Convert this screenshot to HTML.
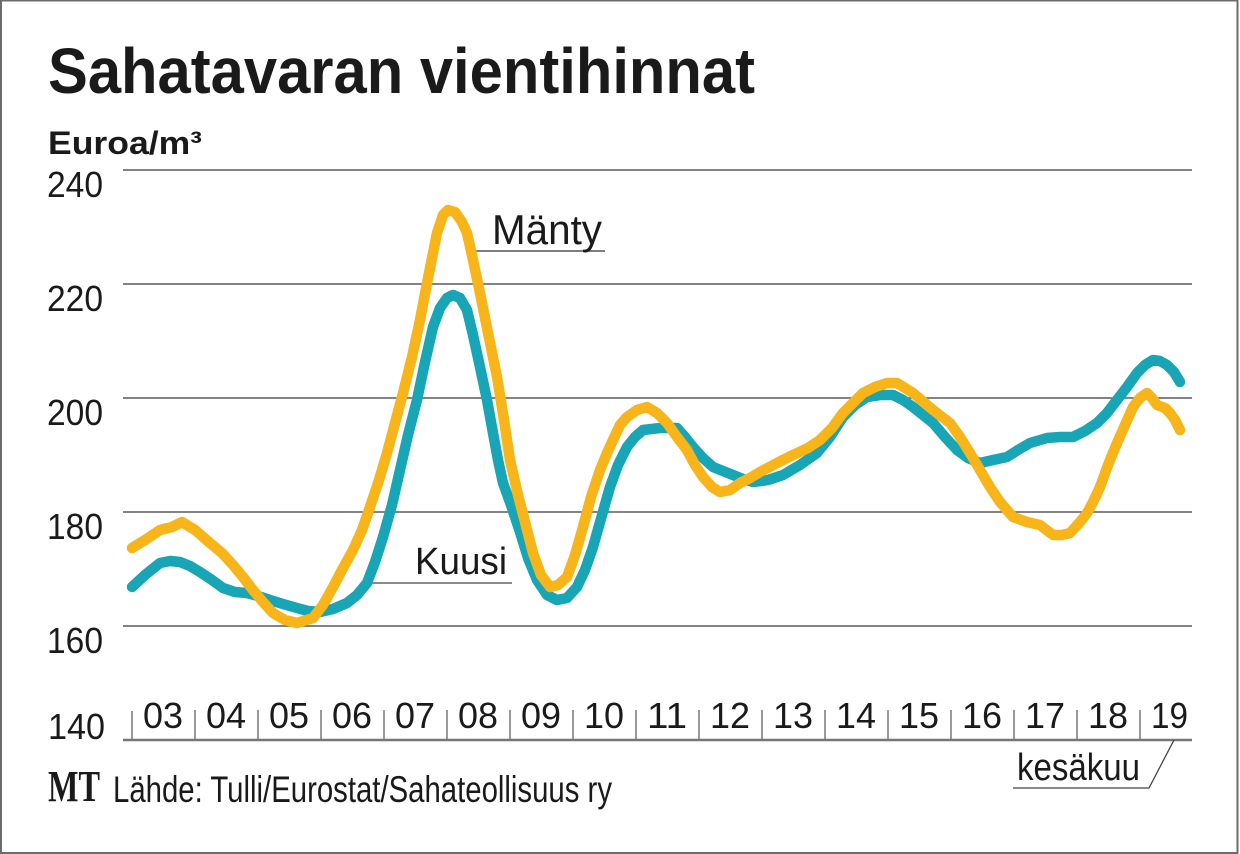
<!DOCTYPE html>
<html>
<head>
<meta charset="utf-8">
<style>
  html, body { margin: 0; padding: 0; background: #fff; }
  svg { display: block; }
  text { font-family: "Liberation Sans", "DejaVu Sans", sans-serif; fill: #1a1a1a; }
</style>
</head>
<body>
<svg width="1240" height="854" viewBox="0 0 1240 854" xmlns="http://www.w3.org/2000/svg">
  <rect x="0" y="0" width="1240" height="854" fill="#fff"/>
  <!-- frame -->
  <rect x="1" y="0.5" width="1236.5" height="852.5" fill="none" stroke="#6b6b6b" stroke-width="2"/>

  <!-- title -->
  <text x="48" y="93" font-size="64" font-weight="bold" textLength="707" lengthAdjust="spacingAndGlyphs" fill="#1e1e1e">Sahatavaran vientihinnat</text>
  <text x="48" y="154" font-size="32" font-weight="bold" textLength="154" lengthAdjust="spacingAndGlyphs" fill="#1e1e1e">Euroa/m³</text>

  <!-- gridlines -->
  <g stroke="#5a5a5a" stroke-width="1.5">
    <line x1="123" y1="170" x2="1192" y2="170"/>
    <line x1="123" y1="284" x2="1192" y2="284"/>
    <line x1="123" y1="398" x2="1192" y2="398"/>
    <line x1="123" y1="512" x2="1192" y2="512"/>
    <line x1="123" y1="626" x2="1192" y2="626"/>
  </g>
  <!-- axis -->
  <line x1="123" y1="740" x2="1192" y2="740" stroke="#777" stroke-width="2.5"/>
  <g stroke="#777" stroke-width="1.5">
    <line x1="132" y1="711" x2="132" y2="740"/>
    <line x1="195" y1="710" x2="195" y2="740"/>
    <line x1="258" y1="710" x2="258" y2="740"/>
    <line x1="321" y1="710" x2="321" y2="740"/>
    <line x1="384" y1="710" x2="384" y2="740"/>
    <line x1="447" y1="710" x2="447" y2="740"/>
    <line x1="510" y1="710" x2="510" y2="740"/>
    <line x1="573" y1="710" x2="573" y2="740"/>
    <line x1="636" y1="710" x2="636" y2="740"/>
    <line x1="699" y1="710" x2="699" y2="740"/>
    <line x1="762" y1="710" x2="762" y2="740"/>
    <line x1="825" y1="710" x2="825" y2="740"/>
    <line x1="888" y1="710" x2="888" y2="740"/>
    <line x1="951" y1="710" x2="951" y2="740"/>
    <line x1="1014" y1="710" x2="1014" y2="740"/>
    <line x1="1077" y1="710" x2="1077" y2="740"/>
    <line x1="1140" y1="710" x2="1140" y2="740"/>
  </g>

  <!-- y labels -->
  <g font-size="36">
    <text x="47" y="197" textLength="56" lengthAdjust="spacingAndGlyphs">240</text>
    <text x="47" y="311" textLength="56" lengthAdjust="spacingAndGlyphs">220</text>
    <text x="47" y="425" textLength="56" lengthAdjust="spacingAndGlyphs">200</text>
    <text x="47" y="539" textLength="56" lengthAdjust="spacingAndGlyphs">180</text>
    <text x="47" y="653" textLength="56" lengthAdjust="spacingAndGlyphs">160</text>
    <text x="48" y="739" textLength="57" lengthAdjust="spacingAndGlyphs">140</text>
  </g>

  <!-- x labels -->
  <g font-size="36">
    <text x="143" y="728" textLength="40" lengthAdjust="spacingAndGlyphs">03</text>
    <text x="206" y="728" textLength="40" lengthAdjust="spacingAndGlyphs">04</text>
    <text x="269" y="728" textLength="40" lengthAdjust="spacingAndGlyphs">05</text>
    <text x="332" y="728" textLength="40" lengthAdjust="spacingAndGlyphs">06</text>
    <text x="395" y="728" textLength="40" lengthAdjust="spacingAndGlyphs">07</text>
    <text x="458" y="728" textLength="40" lengthAdjust="spacingAndGlyphs">08</text>
    <text x="521" y="728" textLength="40" lengthAdjust="spacingAndGlyphs">09</text>
    <text x="584" y="728" textLength="40" lengthAdjust="spacingAndGlyphs">10</text>
    <text x="647" y="728" textLength="40" lengthAdjust="spacingAndGlyphs">11</text>
    <text x="710" y="728" textLength="40" lengthAdjust="spacingAndGlyphs">12</text>
    <text x="773" y="728" textLength="40" lengthAdjust="spacingAndGlyphs">13</text>
    <text x="836" y="728" textLength="40" lengthAdjust="spacingAndGlyphs">14</text>
    <text x="899" y="728" textLength="40" lengthAdjust="spacingAndGlyphs">15</text>
    <text x="962" y="728" textLength="40" lengthAdjust="spacingAndGlyphs">16</text>
    <text x="1025" y="728" textLength="40" lengthAdjust="spacingAndGlyphs">17</text>
    <text x="1088" y="728" textLength="40" lengthAdjust="spacingAndGlyphs">18</text>
    <text x="1151" y="728" textLength="37" lengthAdjust="spacingAndGlyphs">19</text>
  </g>

  <!-- series labels -->
  <line x1="475" y1="251" x2="605" y2="251" stroke="#333" stroke-width="1.3"/>
  <text x="492" y="244" font-size="42" textLength="110" lengthAdjust="spacingAndGlyphs">Mänty</text>
  <line x1="372" y1="583" x2="512" y2="583" stroke="#444" stroke-width="1.3"/>
  <text x="415" y="574" font-size="38" textLength="92" lengthAdjust="spacingAndGlyphs">Kuusi</text>

  <!-- kesäkuu -->
  <polyline points="1013,788 1149,788 1174,740" fill="none" stroke="#444" stroke-width="1.3"/>
  <text x="1017" y="780" font-size="38" textLength="123" lengthAdjust="spacingAndGlyphs">kesäkuu</text>

  <!-- series: Kuusi (teal) -->
  <polyline fill="none" stroke="#18A6B6" stroke-width="10.5" stroke-linejoin="round" stroke-linecap="round"
    points="132,587 145,575 160,563 170,561 180,562 190,566 200,572 212,580 223,588 235,592 247,593 258,596 270,600 283,604 297,608 308,611 320,612 333,609 347,603 357,595 367,583 375,562 383,537 392,505 400,470 408,435 417,400 425,362 433,327 440,308 447,298 453,295 460,298 467,310 473,335 480,367 487,400 493,433 498,460 503,483 511,505 520,532 528,558 537,580 547,595 557,600 567,598 577,587 585,570 593,547 602,515 610,487 618,465 627,447 635,437 643,430 660,428 677,428 685,437 693,447 703,458 713,467 723,471 733,475 743,479 753,482 768,480 783,475 800,465 817,453 830,437 843,417 855,405 867,397 880,395 893,395 903,400 913,407 923,415 933,423 945,437 957,450 968,458 980,463 993,460 1007,457 1018,450 1030,443 1047,438 1060,437 1073,437 1085,431 1097,423 1107,413 1117,400 1127,387 1137,373 1145,365 1153,360 1160,361 1167,365 1174,372 1180,382"/>

  <!-- series: Mänty (orange) -->
  <polyline fill="none" stroke="#F7B519" stroke-width="10.5" stroke-linejoin="round" stroke-linecap="round"
    points="132,548 145,540 160,530 172,527 182,522 195,530 210,543 222,553 233,565 243,577 253,590 263,602 273,613 285,620 297,623 313,618 323,605 333,587 343,568 353,550 362,530 370,507 379,480 387,453 395,423 403,393 412,357 420,320 428,278 437,233 443,215 448,210 455,212 462,222 467,233 473,260 480,293 488,333 497,377 504,420 510,460 518,495 525,522 533,553 541,575 550,587 558,585 567,577 575,555 583,527 591,497 600,470 607,453 613,440 620,425 627,417 637,410 647,407 657,413 667,423 677,437 687,450 695,465 703,477 712,487 720,492 730,490 740,483 750,478 760,472 777,463 793,455 808,448 820,440 832,428 843,413 853,403 863,393 875,387 887,383 897,383 913,393 933,410 950,423 960,437 970,453 980,470 990,487 1000,502 1013,517 1027,522 1040,525 1053,535 1062,535 1070,533 1080,522 1087,513 1093,502 1100,487 1108,465 1117,443 1125,425 1133,407 1140,398 1147,393 1152,398 1157,405 1165,408 1170,413 1175,420 1180,430"/>

  <!-- footer -->
  <text x="48" y="801" font-size="44" font-weight="bold" textLength="52" lengthAdjust="spacingAndGlyphs" style="font-family:'Liberation Serif', serif;" fill="#1a1a1a">MT</text>
  <text x="113" y="802" font-size="37" textLength="499" lengthAdjust="spacingAndGlyphs" fill="#2a2a2a">Lähde: Tulli/Eurostat/Sahateollisuus ry</text>
</svg>
</body>
</html>
